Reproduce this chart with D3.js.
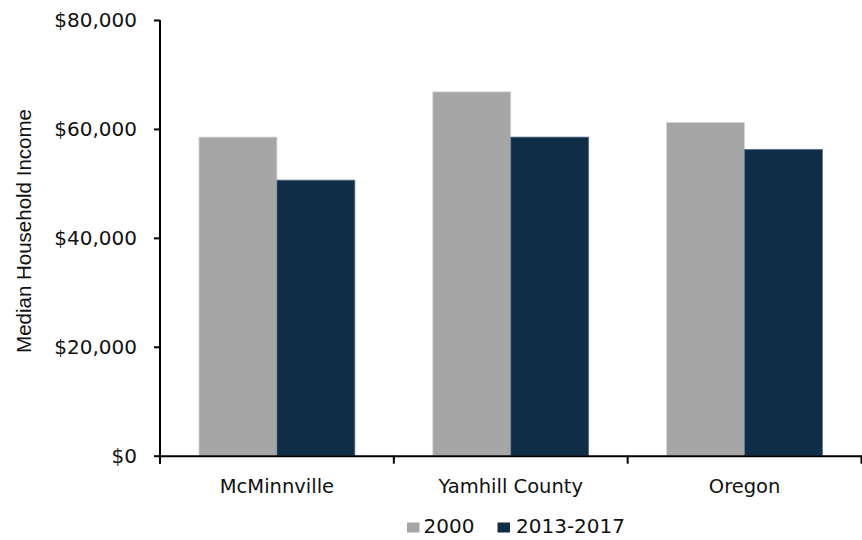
<!DOCTYPE html>
<head>
  <title>Median Household Income</title>
  <style>
    body { margin: 0; background: #fff; }
    .tick text { font-family: "DejaVu Sans", sans-serif; fill: #111; }
    .domain, .tick line { stroke: #000; stroke-width: 2; }
  </style>
</head>
<body>
  <script src="https://cdn.jsdelivr.net/npm/d3@7"></script>
  <script>
    // data
    var places = ["McMinnville", "Yamhill County", "Oregon"];
    var series = ["2000", "2013-2017"];
    var income2000 = [58500, 66800, 61200];
    var income2017 = [50600, 58500, 56250];
    var yTicks = [0, 20000, 40000, 60000, 80000];
    var colors = ["#a6a6a6", "#102d48"];
    var edges = ["#d4d4d4", "#60758a"];

    var width = 862, height = 540;
    var margin = {top: 20, right: 0.5, bottom: 84.3, left: 160};

    var svg = d3.select("body").append("svg")
        .attr("width", width)
        .attr("height", height);

    var x0 = d3.scaleBand()
        .domain(places)
        .range([margin.left, width - margin.right])
        .padding(0);

    var x1 = d3.scaleBand()
        .domain(series)
        .range([0, x0.bandwidth()])
        .paddingInner(0)
        .paddingOuter(0.5);

    var y = d3.scaleLinear()
        .domain([0, 80000])
        .range([height - margin.bottom, margin.top]);

    var rows = places.map(function(p, i) {
      return {place: p, values: [income2000[i], income2017[i]]};
    });

    // bars
    var groups = svg.selectAll(".grp")
        .data(rows)
      .enter().append("g")
        .attr("class", "grp")
        .attr("transform", function(d) { return "translate(" + x0(d.place) + ",0)"; });

    groups.selectAll("rect")
        .data(function(d) { return d.values.map(function(v, j) { return {s: series[j], v: v, j: j}; }); })
      .enter().append("rect")
        .attr("x", function(d) { return x1(d.s); })
        .attr("width", x1.bandwidth())
        .attr("y", function(d) { return y(d.v); })
        .attr("height", function(d) { return y(0) - y(d.v); })
        .attr("fill", function(d) { return colors[d.j]; })
        .attr("stroke", function(d) { return edges[d.j]; })
        .attr("stroke-width", 0.8);

    // y axis
    svg.append("g")
        .attr("transform", "translate(" + margin.left + ",0)")
        .call(d3.axisLeft(y)
          .tickValues(yTicks)
          .tickSize(6)
          .tickSizeOuter(0)
          .tickPadding(17)
          .tickFormat(function(d) { return "$" + d3.format(",")(d); }))
        .call(function(g) {
          g.select(".domain").attr("d", "M0," + margin.top + "V" + (y(0) + 8));
          g.selectAll(".tick text").style("font-size", "20px");
        });

    // x axis
    svg.append("g")
        .attr("transform", "translate(0," + y(0) + ")")
        .call(d3.axisBottom(x0).tickSize(0).tickSizeOuter(0).tickPadding(0))
        .call(function(g) {
          g.selectAll(".tick text").attr("y", 0).attr("dy", 0)
            .style("font-size", "19.5px")
            .attr("transform", "translate(0,37)");
        });

    // category boundary ticks on the x axis
    var bounds = [margin.left].concat(places.map(function(p) { return x0(p) + x0.bandwidth(); }));
    svg.append("g").selectAll("line")
        .data(bounds)
      .enter().append("line")
        .attr("x1", function(d) { return d; })
        .attr("x2", function(d) { return d; })
        .attr("y1", y(0))
        .attr("y2", y(0) + 8)
        .attr("stroke", "#000")
        .attr("stroke-width", 2);

    // y axis title
    svg.append("text")
        .attr("transform", "translate(31," + 231 + ") rotate(-90)")
        .attr("text-anchor", "middle")
        .style("font-family", "'Liberation Sans', Arial, sans-serif")
        .style("font-size", "20.5px")
        .style("fill", "#111")
        .text("Median Household Income");

    // legend
    var legendX = [407, 497.5];
    var legend = svg.append("g").selectAll("g")
        .data(series)
      .enter().append("g")
        .attr("transform", function(d, i) { return "translate(" + legendX[i] + ",0)"; });

    legend.append("rect")
        .attr("x", 0)
        .attr("y", 522.5)
        .attr("width", 12.5)
        .attr("height", 10)
        .attr("fill", function(d, i) { return colors[i]; });

    legend.append("text")
        .attr("x", function(d, i) { return i ? 18.5 : 16.5; })
        .attr("y", 533)
        .style("font-family", "'DejaVu Sans', sans-serif")
        .style("font-size", "20px")
        .style("fill", "#111")
        .text(function(d) { return d; });
  </script>
</body>
